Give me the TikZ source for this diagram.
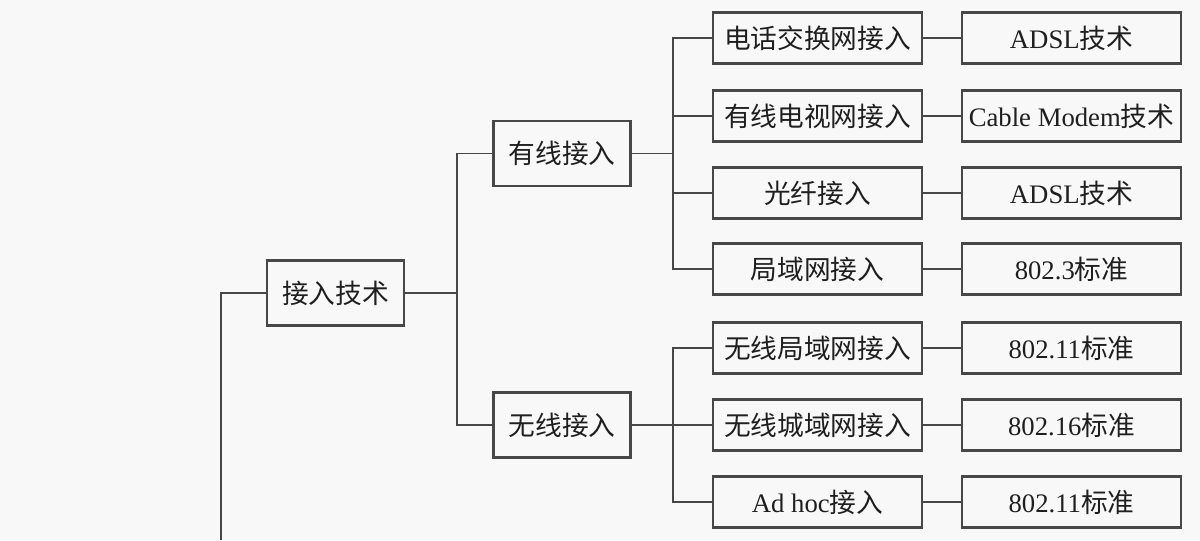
\documentclass[tikz,border=0pt]{standalone}
\usepackage{fontspec}
\setmainfont{Liberation Serif}
\newfontfamily\cjk{Noto Sans CJK SC}
\newcommand{\zh}[1]{{\cjk #1}}
\usetikzlibrary{calc}

\definecolor{crta}{HTML}{474747}
\definecolor{papir}{HTML}{F8F8F8}

\begin{document}
\begin{tikzpicture}[
	kvadr/.style={draw=crta, line width=1.5pt, rectangle, inner sep=0pt, text=black!88, font=\fontsize{15.2}{18}\selectfont},
	kvadr1/.style={kvadr, minimum width=2.74cm, minimum height=1.3cm},
	kvadr2/.style={kvadr, minimum width=4.18cm, minimum height=1.02cm},
	kvadr3/.style={kvadr, minimum width=4.38cm, minimum height=1.02cm},
	spoj/.style={draw=crta, line width=1.1pt}]
			\fill[papir] (0,0) rectangle (24,-10.8);
			\useasboundingbox (0,0) rectangle (24,-10.8);

			\node[kvadr1] (koren) at (6.71,-5.86) {\zh{接入技术}};
			\node[kvadr1] (W) at ($(koren)+(4.53,2.79)$) {\zh{有线接入}};
			\node[kvadr1] (B) at ($(koren)+(4.53,-2.64)$) {\zh{无线接入}};
			%levy sloupec: kde se vetvi
			\coordinate (s0) at ($(koren)+(-2.29,-4.94)$);
			\coordinate (s1) at ($(koren)+(2.43,0)$);
			\coordinate (s2) at ($(W)+(2.22,0)$);

			\node[kvadr2] (W1) at ($(W)+(5.11,2.31)$) {\zh{电话交换网接入}};
			\node[kvadr2] (W2) at ($(W)+(5.11,0.75)$) {\zh{有线电视网接入}};
			\node[kvadr2] (W3) at ($(W)+(5.11,-0.79)$) {\zh{光纤接入}};
			\node[kvadr2] (W4) at ($(W)+(5.11,-2.31)$) {\zh{局域网接入}};
			\node[kvadr2] (B1) at ($(B)+(5.11,1.54)$) {\zh{无线局域网接入}};
			\node[kvadr2] (B2) at ($(B)+(5.11,0)$) {\zh{无线城域网接入}};
			\node[kvadr2] (B3) at ($(B)+(5.11,-1.54)$) {Ad hoc\zh{接入}};

			\node[kvadr3] (T1) at ($(W1)+(5.08,0)$) {ADSL\zh{技术}};
			\node[kvadr3] (T2) at ($(W2)+(5.08,0)$) {Cable Modem\zh{技术}};
			\node[kvadr3] (T3) at ($(W3)+(5.08,0)$) {ADSL\zh{技术}};
			\node[kvadr3] (T4) at ($(W4)+(5.08,0)$) {802.3\zh{标准}};
			\node[kvadr3] (T5) at ($(B1)+(5.08,0)$) {802.11\zh{标准}};
			\node[kvadr3] (T6) at ($(B2)+(5.08,0)$) {802.16\zh{标准}};
			\node[kvadr3] (T7) at ($(B3)+(5.08,0)$) {802.11\zh{标准}};

			\draw[spoj] (koren.west) -| (s0);
			\draw[spoj] (koren.east) -- (s1);
			\draw[spoj] (W.west) -| (s1) |- (B.west);
			\draw[spoj] (W.east) -- (s2);
			\draw[spoj] (W1.west) -| (s2) |- (W4.west);
			\draw[spoj] (s2 |- W2.west) -- (W2.west);
			\draw[spoj] (s2 |- W3.west) -- (W3.west);
			\draw[spoj] (B.east) -- (B2.west);
			\draw[spoj] (B1.west) -| (s2 |- B.east) |- (B3.west);

			\draw[spoj] (W1.east) -- (T1.west);
			\draw[spoj] (W2.east) -- (T2.west);
			\draw[spoj] (W3.east) -- (T3.west);
			\draw[spoj] (W4.east) -- (T4.west);
			\draw[spoj] (B1.east) -- (T5.west);
			\draw[spoj] (B2.east) -- (T6.west);
			\draw[spoj] (B3.east) -- (T7.west);

		\end{tikzpicture}
\end{document}
